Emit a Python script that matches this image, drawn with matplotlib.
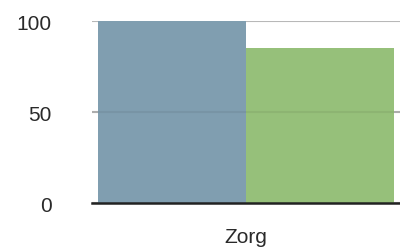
import matplotlib
matplotlib.use("Agg")
import matplotlib.pyplot as plt
import numpy as np

categories = ["Zorg"]
series_a = [100]
series_b = [85]
yticks = [0, 50, 100]

plt.rcParams['font.family'] = ['Liberation Sans', 'DejaVu Sans']

fig = plt.figure(figsize=(4.0, 2.51), dpi=100)
ax = fig.add_axes([0.23, 0.187, 0.77, 0.725])

x = np.arange(len(categories))
w = 0.48
ax.bar(x - w/2, series_a, w, color="#809eb0", zorder=2)
ax.bar(x + w/2, series_b, w, color="#96c07a", zorder=2)

ax.set_xlim(-0.5, 0.5)
ax.set_ylim(0, 100)
ax.set_yticks(yticks)
ax.set_xticks(x)
ax.set_xticklabels(categories)
ax.yaxis.grid(True, color="#b8b8b8", linewidth=1.5, zorder=1)
ax.set_axisbelow(True)
# faint line where the grid shows through the bars
ax.axhline(50, color="#000000", alpha=0.06, linewidth=1.5, zorder=3)

for s in ["top", "right", "left"]:
    ax.spines[s].set_visible(False)
ax.spines["bottom"].set_color("#222222")
ax.spines["bottom"].set_linewidth(1.8)
ax.spines["bottom"].set_zorder(4)

ax.tick_params(axis="y", length=0, pad=29, labelsize=15, colors="#2a2a2a")
ax.tick_params(axis="x", length=0, pad=17, labelsize=15, colors="#2a2a2a")

fig.savefig("out.png", dpi=100)
